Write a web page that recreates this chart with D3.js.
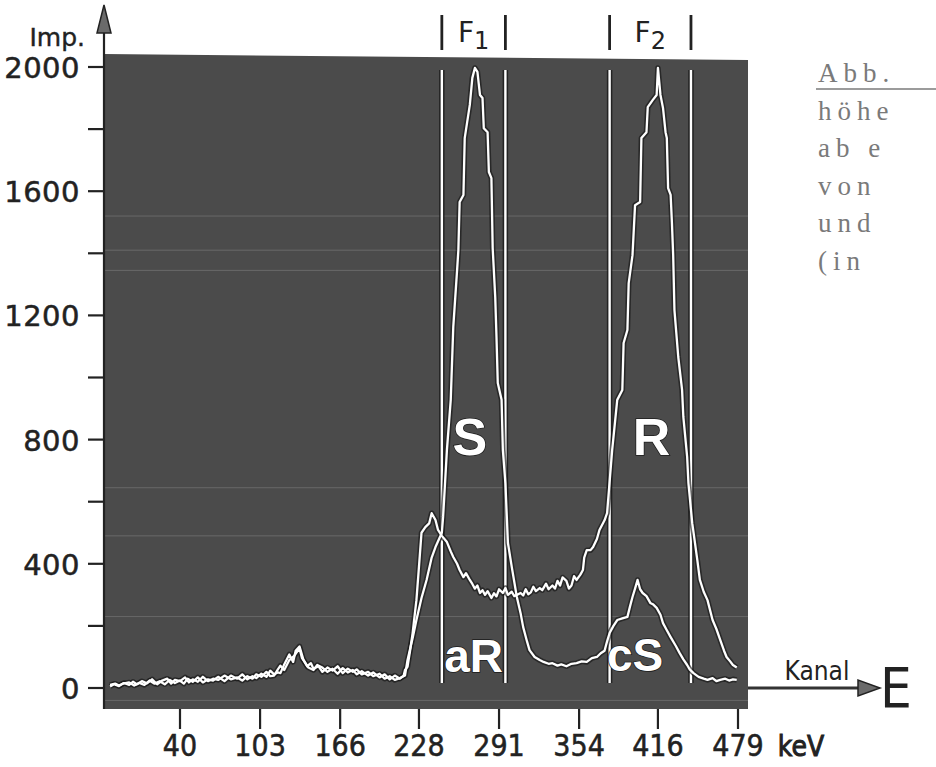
<!DOCTYPE html>
<html>
<head>
<meta charset="utf-8">
<script src="https://cdn.jsdelivr.net/npm/d3@7"></script>
<style>
  html, body { margin: 0; padding: 0; background: #ffffff; }
  svg { display: block; }
</style>
</head>
<body>
<svg id="chart" width="936" height="767"></svg>
<script>
// ---------------- DATA ----------------
const xTickLabels = [40, 103, 166, 228, 291, 354, 416, 479];   // keV
const yTickLabels = [0, 400, 800, 1200, 1600, 2000];          // Imp.
const yMinorTicks = [0, 200, 400, 600, 800, 1000, 1200, 1400, 1600, 1800, 2000];
const windowF1 = [246, 296];   // keV, window F1
const windowF2 = [378, 442];   // keV, window F2

// Spectrum "R" (small peak aR in F1, main peak R in F2): [keV, Imp.]
const spectrumR = [
  [-15,10],[-11,14],[-8,8],[-4,16],[0,10],[3,20],[6,12],[10,22],[14,15],[18,28],[22,12],[26,24],[30,30],[33,14],[36,26],
  [40,22],[44,34],[47,18],[50,28],[54,20],[58,36],[62,22],[66,30],[70,26],[75,40],[80,28],[85,34],[89,24],[93,38],[97,30],
  [100,44],[104,36],[108,52],[111,38],[114,40],[117,60],[119,72],[122,58],[126,90],[130,104],[134,128],[136,96],[138,84],[141,66],
  [145,58],[148,74],[152,66],[156,52],[160,62],[164,46],[168,64],[172,50],[176,58],[179,44],[183,54],[188,40],[192,50],[197,34],
  [201,44],[205,28],[209,40],[213,30],[216,40],[217,58],[219,68],[221,120],[223,177],[226,283],[228,390],[230,500],[233,518],[236,530],
  [238,563],[241,541],[243,509],[246,490],[250,470],[253,440],[255,422],[258,400],[260,380],[263,357],[265,370],[268,348],[270,335],[272,320],
  [274,330],[276,306],[278,315],[280,300],[282,312],[285,290],[287,305],[289,295],[291,318],[294,306],[296,322],[298,300],[301,310],[303,296],[305,300],[308,306],[310,298],[312,318],
  [314,302],[316,308],[318,326],[320,312],[323,322],[325,315],[328,336],[330,318],[333,330],[335,320],[337,345],[339,330],[341,356],[344,345],[346,320],[348,330],[350,360],[352,348],[355,365],
  [357,380],[358,420],[360,444],[363,444],[365,454],[368,480],[370,509],[374,540],[376,563],[380,766],[384,928],
  [388,960],[389,1111],[392,1153],[393,1304],[396,1394],[398,1555],[402,1565],[403,1771],[407,1790],[408,1871],
  [412,1894],[415,1910],[416,1997],[418,1910],[420,1868],[422,1790],[423,1771],[424,1610],[426,1588],[427,1500],
  [428,1394],[429,1217],[432,1066],[435,960],[436,873],[439,744],[440,660],[443,531],[447,412],[449,348],
  [452,310],[455,283],[459,219],[462,190],[465,155],[468,120],[470,100],[473,85],[475,74],[478,66]
];

// Spectrum "S" (main peak S in F1, small peak cS in F2): [keV, Imp.]
const spectrumS = [
  [-15,5],[-12,12],[-8,6],[-5,14],[0,18],[4,8],[8,16],[12,10],[16,24],[20,14],[24,22],[28,12],[32,26],[36,16],
  [40,24],[43,14],[46,30],[50,20],[54,34],[58,18],[62,28],[66,24],[70,36],[75,22],[80,40],[85,30],[89,44],[93,28],[97,38],
  [100,32],[104,46],[108,36],[111,56],[114,44],[117,50],[119,48],[122,76],[126,108],[129,84],[131,120],[134,134],[137,92],[140,70],
  [143,80],[145,62],[149,70],[152,52],[156,66],[160,56],[164,70],[168,48],[172,62],[176,52],[179,60],[183,44],[188,52],[192,38],
  [197,46],[201,30],[205,38],[209,26],[213,32],[217,40],[219,90],[223,160],[226,219],[230,290],[234,348],[238,420],[241,454],[246,500],[247,551],
  [250,767],[253,928],[255,1163],[258,1346],[259,1410],[260,1565],[263,1588],[264,1771],[268,1878],[270,1965],
  [272,1997],[274,1984],[276,1910],[278,1900],[279,1803],[282,1790],[283,1662],[285,1642],[286,1417],[288,1259],
  [289,1130],[290,982],[293,928],[294,767],[296,660],[298,467],[301,390],[305,293],[308,240],[310,196],[313,150],[315,122],
  [319,100],[323,90],[326,84],[330,78],[333,80],[337,72],[340,76],[344,70],[348,78],[352,80],[356,86],[360,84],[364,96],[368,100],[371,112],[374,120],[376,150],[378,177],[381,200],[384,219],[388,224],[392,229],
  [394,262],[396,293],[398,320],[400,348],[402,318],[404,306],[407,296],[410,274],[412,270],[415,258],[418,236],[420,209],[423,186],[426,164],[430,136],[433,113],[436,92],[439,74],[441,60],[444,48],
  [448,36],[452,30],[455,26],[459,32],[462,22],[465,26],[469,30],[472,24],[475,28],[478,26]
];

// Labels inside the panel: [text, keV, Imp., size]
const peakLabels = [
  ["S", 268, 750, 52],
  ["R", 411, 750, 52],
  ["aR", 271, 52, 46],
  ["cS", 398, 55, 46]
];

// Caption fragment on the right
const captionLines = ["Abb.", "höhe", "ab e", "von", "und", "(in"];

// ---------------- SCALES ----------------
const svg = d3.select("#chart");
const x = d3.scaleLinear().domain([40, 479]).range([180, 738]);
const y = d3.scaleLinear().domain([0, 2000]).range([688, 67]);

const panelLeft = 104, panelRight = 748, panelTop = 56, panelBottom = 709;

// ---------------- PANEL ----------------
svg.append("path")
  .attr("d", `M${panelLeft},${panelTop - 2} L${panelRight},${panelTop + 4} L${panelRight},${panelBottom} L${panelLeft},${panelBottom} Z`)
  .attr("fill", "#4b4b4b");

// faint scan lines of the photographed screen
const scanLines = [1520, 1410, 1345, 645, 490, 230, -40];
svg.append("g").selectAll("line").data(scanLines).join("line")
  .attr("x1", panelLeft).attr("x2", panelRight)
  .attr("y1", d => y(d)).attr("y2", d => y(d))
  .attr("stroke", "#a0a0a0").attr("stroke-opacity", 0.35).attr("stroke-width", 1);

// ---------------- WINDOW LINES ----------------
const winLines = windowF1.concat(windowF2);
const gWin = svg.append("g");
gWin.selectAll("line.halo").data(winLines).join("line")
  .attr("class", "halo")
  .attr("x1", d => x(d)).attr("x2", d => x(d))
  .attr("y1", 70).attr("y2", 683)
  .attr("stroke", "#151515").attr("stroke-width", 5.5).attr("stroke-opacity", 0.75);
gWin.selectAll("line.core").data(winLines).join("line")
  .attr("class", "core")
  .attr("x1", d => x(d)).attr("x2", d => x(d))
  .attr("y1", 70).attr("y2", 683)
  .attr("stroke", "#ffffff").attr("stroke-width", 2.4);

// ---------------- SPECTRA ----------------
const line = d3.line().x(d => x(d[0])).y(d => y(d[1])).curve(d3.curveLinear);
[spectrumR, spectrumS].forEach(s => {
  svg.append("path").datum(s).attr("d", line)
    .attr("fill", "none").attr("stroke", "#151515").attr("stroke-width", 5.5)
    .attr("stroke-opacity", 0.65).attr("stroke-linejoin", "round");
});
[spectrumR, spectrumS].forEach(s => {
  svg.append("path").datum(s).attr("d", line)
    .attr("fill", "none").attr("stroke", "#ffffff").attr("stroke-width", 2.3)
    .attr("stroke-linejoin", "round");
});

// ---------------- PEAK LABELS ----------------
svg.append("g").selectAll("text").data(peakLabels).join("text")
  .attr("x", d => x(d[1])).attr("y", d => y(d[2]))
  .attr("text-anchor", "middle")
  .attr("font-family", "'Liberation Sans', Arial, sans-serif")
  .attr("font-weight", "bold")
  .attr("font-size", d => d[3])
  .attr("fill", "#ffffff")
  .attr("stroke", "#1a1a1a").attr("stroke-width", 1.5).attr("paint-order", "stroke")
  .text(d => d[0]);

// ---------------- Y AXIS ----------------
svg.append("line")
  .attr("x1", panelLeft).attr("x2", panelLeft)
  .attr("y1", 28).attr("y2", panelBottom)
  .attr("stroke", "#222").attr("stroke-width", 2.2);
svg.append("path")
  .attr("d", `M${panelLeft - 7},33 L${panelLeft + 7},33 L${panelLeft},5 Z`)
  .attr("fill", "#6a6a6a").attr("stroke", "#222").attr("stroke-width", 1.5);

svg.append("g").selectAll("line").data(yMinorTicks).join("line")
  .attr("x1", 88).attr("x2", panelLeft)
  .attr("y1", d => y(d)).attr("y2", d => y(d))
  .attr("stroke", "#222").attr("stroke-width", 2.2);

svg.append("g").selectAll("text").data(yTickLabels).join("text")
  .attr("x", 80).attr("y", d => y(d) + 11)
  .attr("text-anchor", "end")
  .attr("font-family", "'DejaVu Sans', sans-serif")
  .attr("font-size", 29)
  .attr("letter-spacing", 0.5)
  .attr("fill", "#222")
  .attr("stroke", "#222").attr("stroke-width", 0.5)
  .text(d => d);

svg.append("text")
  .attr("x", 85).attr("y", 46)
  .attr("text-anchor", "end")
  .attr("font-family", "'DejaVu Sans', sans-serif")
  .attr("font-size", 25)
  .attr("fill", "#222")
  .attr("stroke", "#222").attr("stroke-width", 0.4)
  .text("Imp.");

// ---------------- X AXIS ----------------
svg.append("g").selectAll("line").data(xTickLabels).join("line")
  .attr("x1", d => x(d)).attr("x2", d => x(d))
  .attr("y1", panelBottom).attr("y2", 729)
  .attr("stroke", "#222").attr("stroke-width", 2.2);

const narrow = "'Liberation Sans Narrow', 'DejaVu Sans Condensed', sans-serif";
svg.append("g").selectAll("text").data(xTickLabels).join("text")
  .attr("x", d => x(d)).attr("y", 756)
  .attr("text-anchor", "middle")
  .attr("font-family", narrow)
  .attr("font-size", 30)
  .attr("fill", "#222")
  .attr("stroke", "#222").attr("stroke-width", 0.5)
  .text(d => d);

svg.append("text")
  .attr("x", 801).attr("y", 756)
  .attr("text-anchor", "middle")
  .attr("font-family", narrow)
  .attr("font-size", 28)
  .attr("fill", "#222")
  .attr("stroke", "#222").attr("stroke-width", 0.9)
  .text("keV");

// x arrow (Kanal → E)
svg.append("line")
  .attr("x1", panelRight).attr("x2", 862)
  .attr("y1", y(0)).attr("y2", y(0))
  .attr("stroke", "#333").attr("stroke-width", 2.8);
svg.append("path")
  .attr("d", `M858,${y(0) - 8} L858,${y(0) + 8} L880,${y(0)} Z`)
  .attr("fill", "#6a6a6a").attr("stroke", "#222").attr("stroke-width", 1.5);
svg.append("text")
  .attr("x", 817).attr("y", y(0) - 8)
  .attr("text-anchor", "middle")
  .attr("font-family", narrow)
  .attr("font-size", 26)
  .attr("fill", "#222")
  .text("Kanal");
svg.append("text")
  .attr("x", 880).attr("y", y(0) + 19)
  .attr("font-family", narrow)
  .attr("font-size", 56)
  .attr("fill", "#222")
  .text("E");

// ---------------- WINDOW LABELS ABOVE ----------------
const winHeads = [
  {w: windowF1, name: "F", sub: "1"},
  {w: windowF2, name: "F", sub: "2"}
];
const gHead = svg.append("g");
winHeads.forEach(h => {
  h.w.forEach(v => {
    gHead.append("line")
      .attr("x1", x(v)).attr("x2", x(v))
      .attr("y1", 15).attr("y2", 50)
      .attr("stroke", "#222").attr("stroke-width", 2.8);
  });
  const t = gHead.append("text")
    .attr("x", (x(h.w[0]) + x(h.w[1])) / 2).attr("y", 42)
    .attr("text-anchor", "middle")
    .attr("font-family", "'DejaVu Sans', sans-serif")
    .attr("font-size", 28)
    .attr("fill", "#222");
  t.append("tspan").text(h.name);
  t.append("tspan").attr("dy", 7).attr("font-size", 24).text(h.sub);
});

// ---------------- CAPTION FRAGMENT ----------------
const gCap = svg.append("g");
gCap.selectAll("text").data(captionLines).join("text")
  .attr("x", 818).attr("y", (d, i) => 82 + i * 37.5)
  .attr("font-family", "'Liberation Serif', 'DejaVu Serif', serif")
  .attr("font-size", 27)
  .attr("letter-spacing", 6)
  .attr("fill", "#7a7a7a")
  .text(d => d);
gCap.append("line")
  .attr("x1", 816).attr("x2", 936)
  .attr("y1", 89).attr("y2", 89)
  .attr("stroke", "#7a7a7a").attr("stroke-width", 1.5);
</script>
</body>
</html>
